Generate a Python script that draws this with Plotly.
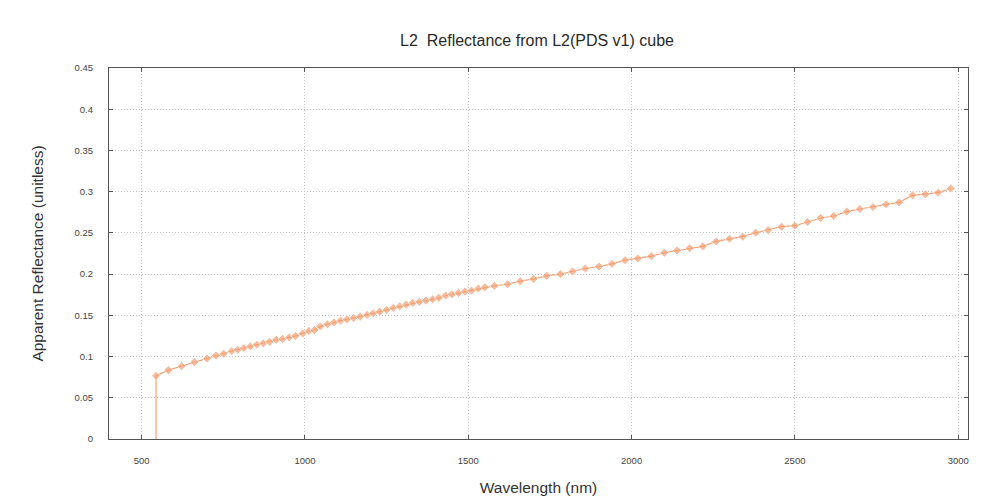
import plotly.graph_objects as go

wavelength = [544, 544, 582, 622.5, 661, 700, 728, 751, 776, 794, 813, 833, 853, 872.5, 891.5,
              912, 931, 952, 971, 993, 1012, 1029, 1047, 1069, 1089, 1109, 1128.5, 1149,
              1169, 1190, 1209, 1229, 1250, 1270, 1290, 1310, 1330, 1350, 1370.5, 1391,
              1410, 1431, 1450, 1470, 1490, 1510, 1531, 1551, 1580, 1620.5, 1659, 1700,
              1740, 1782, 1819, 1858.5, 1900, 1940, 1980, 2019, 2060, 2100, 2139, 2178,
              2218, 2259, 2300, 2340, 2380, 2418, 2459, 2500, 2539, 2579, 2618.5, 2659,
              2699, 2739, 2779, 2819, 2860, 2899, 2939, 2977]
reflectance = [0.0, 0.0766, 0.0835, 0.0884, 0.0933, 0.0977, 0.1013, 0.1034, 0.1067, 0.1083,
               0.1103, 0.1123, 0.1144, 0.1160, 0.1180, 0.1204, 0.1213, 0.1232, 0.1249,
               0.1281, 0.1310, 0.1322, 0.1366, 0.1391, 0.1415, 0.1436, 0.1451, 0.1468,
               0.1484, 0.1505, 0.1524, 0.1545, 0.1566, 0.1590, 0.1609, 0.1630, 0.1651,
               0.1663, 0.1679, 0.1695, 0.1712, 0.1740, 0.1755, 0.1772, 0.1788, 0.1800,
               0.1825, 0.1841, 0.1858, 0.1877, 0.1914, 0.1943, 0.1979, 0.1999, 0.2032,
               0.2068, 0.2092, 0.2125, 0.2169, 0.2190, 0.2218, 0.2259, 0.2287, 0.2315,
               0.2336, 0.2397, 0.2429, 0.2454, 0.2502, 0.2534, 0.2575, 0.2587, 0.2632,
               0.2681, 0.2705, 0.2758, 0.2790, 0.2814, 0.2847, 0.2871, 0.2956, 0.2968,
               0.2989, 0.3038]

x_ticks = [500, 1000, 1500, 2000, 2500, 3000]
y_ticks = [0, 0.05, 0.1, 0.15, 0.2, 0.25, 0.3, 0.35, 0.4, 0.45]
y_tick_text = ["0", "0.05", "0.1", "0.15", "0.2", "0.25", "0.3", "0.35", "0.4", "0.45"]

color = "#F4A074"
marker_sizes = [0] + [7] * (len(wavelength) - 1)

fig = go.Figure()
fig.add_trace(go.Scatter(
    x=wavelength, y=reflectance, mode="lines+markers",
    line=dict(color=color, width=1.2),
    marker=dict(symbol="diamond", size=marker_sizes, color=color),
    showlegend=False,
))

font_family = "Liberation Sans, Arial, sans-serif"
# page body has an 8px default margin, so the figure is offset by 8px
fig.update_layout(
    width=977, height=493,
    margin=dict(l=101, r=17, t=60, b=62),
    paper_bgcolor="white", plot_bgcolor="white",
    title=dict(text="L2  Reflectance from L2(PDS v1) cube", x=0.5415, xanchor="center",
               y=0.935, yanchor="middle",
               font=dict(family=font_family, size=16, color="#2a2a2a")),
    font=dict(family=font_family, color="#444"),
)
axis_common = dict(
    showline=True, linecolor="#555", linewidth=1.2, mirror="ticks",
    ticks="inside", ticklen=4, tickcolor="#555", automargin=False,
    showgrid=True, gridcolor="#c4c4c4", griddash="1px,2px", gridwidth=1,
    zeroline=False, tickfont=dict(size=9.5, color="#444", family=font_family),
)
fig.update_xaxes(range=[400, 3030], tickvals=x_ticks, ticklabelstandoff=12,
                 title=dict(text="Wavelength (nm)", font=dict(size=15.5, color="#333"), standoff=17),
                 **axis_common)
fig.update_yaxes(range=[0, 0.45], tickvals=y_ticks, ticktext=y_tick_text, ticklabelstandoff=13,
                 title=dict(text="Apparent Reflectance (unitless)", font=dict(size=15.5, color="#333"), standoff=27),
                 **axis_common)

fig.write_html("out.html")
